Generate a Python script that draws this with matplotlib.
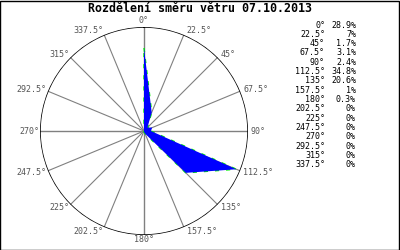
import numpy as np
import matplotlib
matplotlib.use('Agg')
import matplotlib.pyplot as plt

# Wind direction distribution
directions = [0, 22.5, 45, 67.5, 90, 112.5, 135, 157.5,
              180, 202.5, 225, 247.5, 270, 292.5, 315, 337.5]
percent = [28.9, 7, 1.7, 3.1, 2.4, 34.8, 20.6, 1,
           0.3, 0, 0, 0, 0, 0, 0, 0]
title = 'Rozdělení směru větru 07.10.2013'
rmax = 36.2

plt.rcParams['font.family'] = 'DejaVu Sans Mono'

fig = plt.figure(figsize=(4, 2.5), dpi=100)
fig.patch.set_facecolor('white')

# frame around the whole picture
fig.add_artist(plt.Rectangle((0.001, 0.002), 0.997, 0.994, transform=fig.transFigure,
                             fill=False, edgecolor='black', linewidth=1))

ax = fig.add_axes([0.1, 0.06, 0.52, 0.832], projection='polar')
ax.set_theta_zero_location('N')
ax.set_theta_direction(-1)
ax.set_ylim(0, rmax)
ax.set_xticks([])
ax.set_yticks([])
ax.grid(False)
ax.spines['polar'].set_visible(False)
ax.patch.set_alpha(0)

theta = np.deg2rad(directions)

# radial grid lines and labels
for d, t in zip(directions, theta):
    main = d % 90 == 0
    ax.plot([t, t], [0, rmax], color='#808080', linewidth=1.0 if main else 0.8, zorder=1)
    s, c = np.sin(t), np.cos(t)
    if abs(s) < 0.01:
        ha = 'center'
        dx = 0
        dy = 7 if c > 0 else -5
    else:
        ha = 'left' if s > 0 else 'right'
        dx = 3 if s > 0 else -1
        dy = 4.5 * c
    ax.annotate(f'{d:g}°', xy=(t, rmax), xytext=(dx, dy), textcoords='offset pixels',
                ha=ha, va='center', fontsize=6, color='#555555', annotation_clip=False)

# outer circle
circ = np.linspace(0, 2 * np.pi, 400)
ax.plot(circ, np.full_like(circ, rmax), color='black', linewidth=1.1, zorder=2)

# filled distribution polygon with dashed green outline underneath
tt = np.append(theta, theta[0])
rr = np.append(percent, percent[0])
ax.plot(tt, rr, color='#00ee00', linewidth=1.0, linestyle=(0, (3, 5)), zorder=3)
ax.fill(tt, rr, color='#0000ff', linewidth=0, zorder=4)

fig.text(0.5, 1 - 9 / 250, title, ha='center', va='center',
         fontsize=8.4, fontweight='bold', color='black')

# legend table on the right
for i, (d, p) in enumerate(zip(directions, percent)):
    y = 1 - (25 + i * 9.33) / 250
    fig.text(325 / 400, y, f'{d:g}°', ha='right', va='center', fontsize=6, color='black')
    fig.text(356 / 400, y, f'{p:g}%', ha='right', va='center', fontsize=6, color='black')

fig.savefig('out.png', dpi=100)
